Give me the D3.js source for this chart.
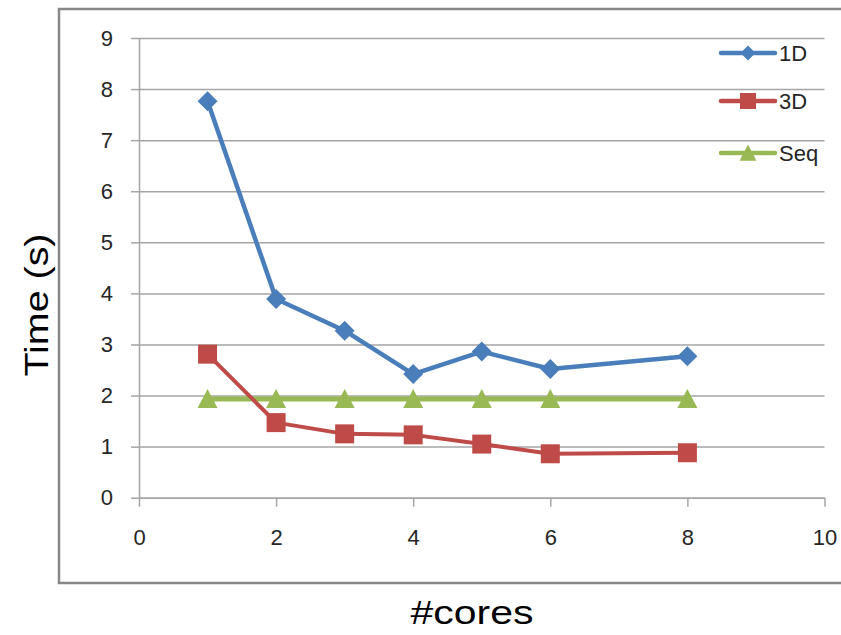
<!DOCTYPE html>
<html>
<head>
<meta charset="utf-8">
<script src="https://cdn.jsdelivr.net/npm/d3@7"></script>
<style>
  body { margin: 0; background: #fff; }
  text { font-family: "Liberation Sans", Arial, sans-serif; }
</style>
</head>
<body>
<div id="chart"></div>
<script>
// data
var cores = [1, 2, 3, 4, 5, 6, 8];
var time1D = [7.76, 3.89, 3.27, 2.42, 2.86, 2.52, 2.77];
var time3D = [2.81, 1.47, 1.25, 1.23, 1.05, 0.86, 0.88];
var timeSeq = [1.93, 1.93, 1.93, 1.93, 1.93, 1.93, 1.93];
var xTicks = [0, 2, 4, 6, 8, 10];
var yTicks = [0, 1, 2, 3, 4, 5, 6, 7, 8, 9];
var seriesNames = ["1D", "3D", "Seq"];

var width = 841, height = 635;
var margin = { top: 38, left: 139, right: 16.5, bottom: 137.3 };
var w = width - margin.left - margin.right,
    h = height - margin.top - margin.bottom;

var svg = d3.select("#chart").append("svg")
  .attr("width", width)
  .attr("height", height);

// outer frame
svg.append("rect")
  .attr("x", 59).attr("y", 9)
  .attr("width", 800).attr("height", 574)
  .attr("fill", "none")
  .attr("stroke", "#878787")
  .attr("stroke-width", 2.5);

var g = svg.append("g")
  .attr("transform", "translate(" + margin.left + "," + margin.top + ")");

var xScale = d3.scaleLinear().domain([0, 10]).range([0, w]);
var yScale = d3.scaleLinear().domain([0, 9]).range([h, 0]);

var gridColor = "#a5a5a5";

// horizontal grid lines
g.append("g").attr("class", "grid")
  .call(d3.axisLeft(yScale).tickValues(yTicks).tickSize(-w).tickFormat(""))
  .call(function(s){ s.select(".domain").remove(); })
  .selectAll("line").attr("stroke", gridColor).attr("stroke-width", 1.5);

// y axis
var yAxis = g.append("g")
  .call(d3.axisLeft(yScale).tickValues(yTicks).tickSize(8).tickSizeOuter(0).tickPadding(18));
yAxis.select(".domain").attr("stroke", gridColor).attr("stroke-width", 1.5);
yAxis.selectAll("line").attr("stroke", gridColor).attr("stroke-width", 1.5);
yAxis.selectAll("text").attr("font-size", 22).attr("fill", "#262626")
  .attr("font-family", "Liberation Sans, Arial, sans-serif");

// x axis
var xAxis = g.append("g")
  .attr("transform", "translate(0," + h + ")")
  .call(d3.axisBottom(xScale).tickValues(xTicks).tickSize(9).tickSizeOuter(0).tickPadding(23));
xAxis.select(".domain").attr("stroke", gridColor).attr("stroke-width", 1.5);
xAxis.selectAll("line").attr("stroke", gridColor).attr("stroke-width", 1.5);
xAxis.selectAll("text").attr("font-size", 22).attr("fill", "#262626")
  .attr("font-family", "Liberation Sans, Arial, sans-serif");

// marker shapes
var diamond = { draw: function(ctx, size) {
  var r = Math.sqrt(size) / 2;
  ctx.moveTo(0, -r); ctx.lineTo(r, 0); ctx.lineTo(0, r); ctx.lineTo(-r, 0); ctx.closePath();
}};
var square = { draw: function(ctx, size) {
  var r = Math.sqrt(size) / 2;
  ctx.rect(-r, -r, 2 * r, 2 * r);
}};
var triangle = { draw: function(ctx, size) {
  var r = Math.sqrt(size) / 2;
  ctx.moveTo(0, -r); ctx.lineTo(r, r * 0.9); ctx.lineTo(-r, r * 0.9); ctx.closePath();
}};

var series = [
  { name: seriesNames[0], values: time1D, color: "#4a7ebb", lw: 4.5, shape: diamond, size: 20 * 20, lsize: 15 * 15 },
  { name: seriesNames[1], values: time3D, color: "#be4b48", lw: 4, shape: square, size: 19 * 19, lsize: 16 * 16 },
  { name: seriesNames[2], values: timeSeq, color: "#98b954", lw: 5, shape: triangle, size: 20 * 20, lsize: 17 * 17 }
];

var line = d3.line()
  .x(function(d){ return xScale(d[0]); })
  .y(function(d){ return yScale(d[1]); });

// draw Seq first, then 3D, then 1D on top
[2, 1, 0].forEach(function(k){
  var s = series[k];
  var pts = cores.map(function(c, i){ return [c, s.values[i]]; });
  g.append("path")
    .datum(pts)
    .attr("d", line)
    .attr("fill", "none")
    .attr("stroke", s.color)
    .attr("stroke-width", s.lw)
    .attr("stroke-linejoin", "round");
  g.selectAll(".m" + k)
    .data(pts)
    .enter().append("path")
    .attr("class", "m" + k)
    .attr("transform", function(d){ return "translate(" + xScale(d[0]) + "," + yScale(d[1]) + ")"; })
    .attr("d", d3.symbol().type(s.shape).size(s.size))
    .attr("fill", s.color);
});

// legend
var legendY = [53, 101, 153];
series.forEach(function(s, i){
  var lg = svg.append("g").attr("transform", "translate(0," + legendY[i] + ")");
  lg.append("line")
    .attr("x1", 721).attr("x2", 775)
    .attr("stroke", s.color).attr("stroke-width", 4.5)
    .attr("stroke-linecap", "round");
  lg.append("path")
    .attr("transform", "translate(748,0)")
    .attr("d", d3.symbol().type(s.shape).size(s.lsize))
    .attr("fill", s.color);
  lg.append("text")
    .attr("x", 779).attr("y", 0).attr("dy", "0.36em")
    .attr("font-size", 22).attr("fill", "#262626")
    .text(s.name);
});

// axis titles
svg.append("text")
  .attr("transform", "translate(48,305) rotate(-90)")
  .attr("text-anchor", "middle")
  .attr("font-size", 34)
  .attr("textLength", 143).attr("lengthAdjust", "spacingAndGlyphs")
  .attr("fill", "#000")
  .text("Time (s)");

svg.append("text")
  .attr("x", 472).attr("y", 624)
  .attr("text-anchor", "middle")
  .attr("font-size", 34)
  .attr("textLength", 123).attr("lengthAdjust", "spacingAndGlyphs")
  .attr("fill", "#000")
  .text("#cores");
</script>
</body>
</html>
